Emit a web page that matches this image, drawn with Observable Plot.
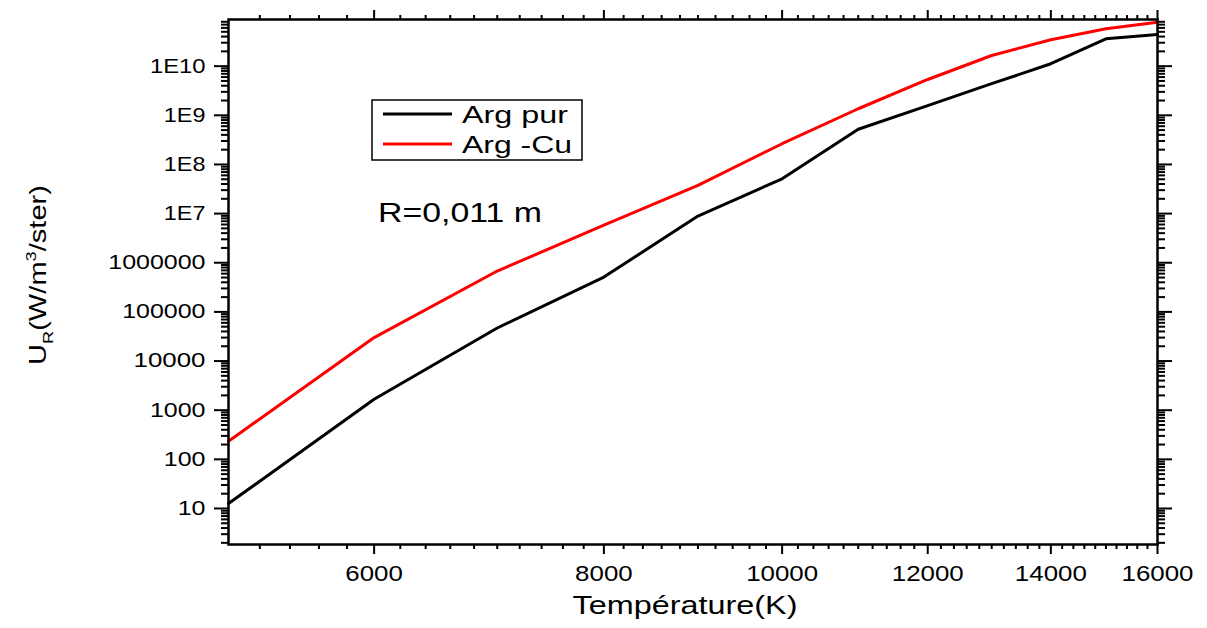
<!DOCTYPE html>
<html><head><meta charset="utf-8">
<script src="https://cdn.jsdelivr.net/npm/d3@7"></script>
<script src="https://cdn.jsdelivr.net/npm/@observablehq/plot@0.6"></script>
<style>
body{margin:0;background:#fff;}
#chart svg{font-family:"Liberation Sans",Arial,sans-serif;display:block;}
</style>
</head><body><div id="chart"></div>
<script>
// ---- data ----
const temperatures = [5000, 6000, 7000, 8000, 9000, 10000, 11000, 12000, 13000, 14000, 15000, 16000];
const argPur = [12.6, 1670, 47000, 512000, 8.9e6, 5.1e7, 5.2e8, 1.57e9, 4.4e9, 1.12e10, 3.6e10, 4.4e10];
const argCu  = [233, 30000, 678000, 5.8e6, 3.75e7, 2.64e8, 1.36e9, 5.36e9, 1.65e10, 3.44e10, 5.75e10, 7.8e10];
const seriesNames = ["Arg pur", "Arg -Cu"];
const seriesColors = ["#000000", "#ff0000"];
const xTicks = [6000, 8000, 10000, 12000, 14000, 16000];
const xTickLabels = ["6000", "8000", "10000", "12000", "14000", "16000"];
const yTicks = [10, 100, 1000, 1e4, 1e5, 1e6, 1e7, 1e8, 1e9, 1e10];
const yTickLabels = ["10", "100", "1000", "10000", "100000", "1000000", "1E7", "1E8", "1E9", "1E10"];
const xLabel = "Température(K)";
const annotation = "R=0,011 m";

// ---- build ----
const data = temperatures.flatMap((T, i) => [
  {T, U: argPur[i], s: seriesNames[0]},
  {T, U: argCu[i], s: seriesNames[1]}
]);
const xDomain = [5000, 16000];
const yDomain = [1.85, 8.9e10];
const xMinor = d3.range(5200, 16000, 200).filter(v => v % 2000 !== 0);
const yMinor = [];
for (let e = 0; e <= 10; e++) for (let k = 2; k <= 9; k++) {
  const v = k * Math.pow(10, e);
  if (v >= yDomain[0] && v <= yDomain[1]) yMinor.push(v);
}
const blank = () => "";

const chart = Plot.plot({
  width: 1207, height: 628,
  marginLeft: 228, marginRight: 50, marginTop: 19, marginBottom: 84,
  style: {fontFamily: "Liberation Sans, Arial, sans-serif", background: "#fff", color: "#000"},
  x: {type: "log", domain: xDomain},
  y: {type: "log", domain: yDomain},
  color: {domain: seriesNames, range: seriesColors},
  marks: [
    Plot.axisX({anchor: "bottom", ticks: xMinor, tickSize: 5, strokeWidth: 2, tickFormat: blank, label: null}),
    Plot.axisX({anchor: "bottom", ticks: xTicks, tickSize: 10, strokeWidth: 2, tickPadding: 11, fontSize: 22,
      tickFormat: d => xTickLabels[xTicks.indexOf(d)], label: null}),
    Plot.axisX({anchor: "top", ticks: xMinor, tickSize: 5, strokeWidth: 2, tickFormat: blank, label: null}),
    Plot.axisX({anchor: "top", ticks: xTicks, tickSize: 10, strokeWidth: 2, tickFormat: blank, label: null}),
    Plot.axisY({anchor: "left", ticks: yMinor, tickSize: 7, strokeWidth: 2, tickFormat: blank, label: null}),
    Plot.axisY({anchor: "left", ticks: yTicks, tickSize: 14, strokeWidth: 2, tickPadding: 9, fontSize: 20,
      tickFormat: d => yTickLabels[yTicks.indexOf(d)], label: null}),
    Plot.axisY({anchor: "right", ticks: yMinor, tickSize: 7, strokeWidth: 2, tickFormat: blank, label: null}),
    Plot.axisY({anchor: "right", ticks: yTicks, tickSize: 14, strokeWidth: 2, tickFormat: blank, label: null}),
    Plot.line(data, {x: "T", y: "U", z: "s", stroke: "s", strokeWidth: 3}),
    Plot.frame({stroke: "#000", strokeWidth: 2.5})
  ]
});
document.getElementById("chart").appendChild(chart);

const svg = d3.select(chart);
// widen a text element horizontally (in its own direction) to a target length
function fitWidth(el, target) {
  const len = el.getComputedTextLength();
  if (!len) return;
  const s = target / len;
  const tr = el.getAttribute("transform");
  if (tr) el.setAttribute("transform", tr + ` scale(${s},1)`);
  else {
    const x = +(el.getAttribute("x") || 0), y = +(el.getAttribute("y") || 0);
    el.removeAttribute("x"); el.removeAttribute("y");
    el.setAttribute("transform", `translate(${x},${y}) scale(${s},1)`);
  }
}
// tick labels: reference digits are ~14 px wide
chart.querySelectorAll("text").forEach(t => {
  const s = (t.textContent || "").trim();
  if (!s) return;
  const isY = yTickLabels.includes(s) && !xTickLabels.includes(s);
  const perChar = isY ? 13.9 : 14.4;
  fitWidth(t, s.length * perChar);
});

function addText(x, y, str, size, target, anchor) {
  const t = svg.append("text")
    .attr("transform", `translate(${x},${y})`)
    .attr("text-anchor", anchor).attr("font-size", size).attr("fill", "#000").text(str);
  fitWidth(t.node(), target);
  return t;
}

// x label
addText(685, 614, xLabel, 25, 225, "middle");

// y label with subscript / superscript
const yl = svg.append("text")
  .attr("transform", "translate(46,275) rotate(-90)")
  .attr("text-anchor", "middle").attr("font-size", 24).attr("fill", "#000");
yl.append("tspan").text("U");
yl.append("tspan").attr("font-size", 15).attr("dy", 7).text("R");
yl.append("tspan").attr("dy", -7).text("(W/m");
yl.append("tspan").attr("font-size", 15).attr("dy", -10).text("3");
yl.append("tspan").attr("dy", 10).text("/ster)");
fitWidth(yl.node(), 180);

// legend
const lg = svg.append("g");
lg.append("rect").attr("x", 372).attr("y", 100).attr("width", 210).attr("height", 60)
  .attr("fill", "#fff").attr("stroke", "#000").attr("stroke-width", 1.5);
const legendWidths = [106, 110];
seriesNames.forEach((name, i) => {
  const y = 114 + i * 30;
  lg.append("line").attr("x1", 383).attr("x2", 452).attr("y1", y).attr("y2", y)
    .attr("stroke", seriesColors[i]).attr("stroke-width", 3);
  const t = lg.append("text").attr("transform", `translate(462,${y + 9})`)
    .attr("text-anchor", "start").attr("font-size", 24).attr("fill", "#000").text(name);
  fitWidth(t.node(), legendWidths[i]);
});

// annotation
addText(378, 222, annotation, 27, 164, "start");
</script>
</body></html>
